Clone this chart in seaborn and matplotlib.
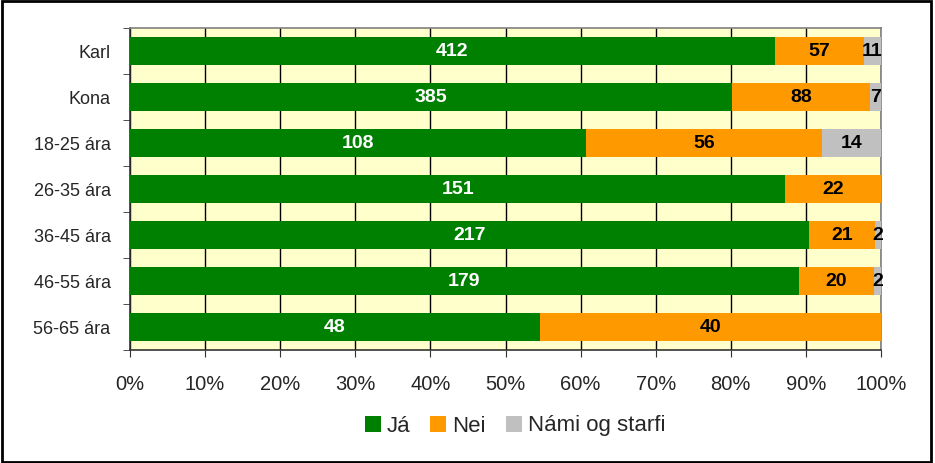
import matplotlib
matplotlib.use("Agg")
import matplotlib.pyplot as plt
import seaborn as sns
import numpy as np
import pandas as pd
from matplotlib.patches import Patch, Rectangle

categories = ["Karl", "Kona", "18-25 ára", "26-35 ára", "36-45 ára", "46-55 ára", "56-65 ára"]
ja = [412, 385, 108, 151, 217, 179, 48]
nei = [57, 88, 56, 22, 21, 20, 40]
nami = [11, 7, 14, 0, 2, 2, 0]
series_names = ["Já", "Nei", "Námi og starfi"]
colors = ["#008000", "#FF9900", "#C0C0C0"]
xticks_labels = ["0%", "10%", "20%", "30%", "40%", "50%", "60%", "70%", "80%", "90%", "100%"]

sns.set_style("white")
plt.rcParams["font.family"] = ["Liberation Sans", "DejaVu Sans"]

ja_a = np.array(ja, float); nei_a = np.array(nei, float); nami_a = np.array(nami, float)
tot = ja_a + nei_a + nami_a
p_ja = ja_a / tot * 100
p_nei = nei_a / tot * 100
p_nami = nami_a / tot * 100

df = pd.DataFrame({"cat": categories, "c3": p_ja + p_nei + p_nami, "c2": p_ja + p_nei, "c1": p_ja})

fig = plt.figure(figsize=(9.35, 4.63), dpi=100)
ax = fig.add_axes([130/935, 1-350/463, (881-130)/935, (350-28)/463])
ax.set_facecolor("#FFFFCC")

for col, c in zip(["c3", "c2", "c1"], colors[::-1]):
    sns.barplot(data=df, x=col, y="cat", orient="h", color=c, width=0.59,
                saturation=1, ax=ax, linewidth=0, zorder=3)

ax.set_xlim(0, 100)
ax.set_ylim(6.5, -0.5)
ax.set_xlabel(""); ax.set_ylabel("")
ax.set_xticks(np.arange(0, 101, 10))
ax.set_xticklabels(xticks_labels, fontsize=14.5)
ax.grid(axis="x", color="black", linewidth=1, zorder=1)
ax.set_axisbelow(True)
ax.tick_params(axis="x", which="major", direction="out", length=5, color="#333333", bottom=True, pad=13)
ax.tick_params(axis="y", which="major", length=0, labelsize=13, pad=14)
ax.set_yticks(np.arange(-0.5, 7, 1), minor=True)
ax.tick_params(axis="y", which="minor", direction="out", length=5, color="#333333", left=True)
for s in ["left", "bottom"]:
    ax.spines[s].set_color("#333333"); ax.spines[s].set_linewidth(1.2)
for s in ["top", "right"]:
    ax.spines[s].set_color("#808080"); ax.spines[s].set_linewidth(1.2)
    ax.spines[s].set_visible(True)

starts = [np.zeros(len(categories)), p_ja, p_ja + p_nei]
widths = [p_ja, p_nei, p_nami]
vals = [ja, nei, nami]
tcols = ["white", "black", "black"]
for st, w, v, tc in zip(starts, widths, vals, tcols):
    for i in range(len(categories)):
        if v[i] > 0:
            ax.text(st[i] + w[i] / 2, i, str(v[i]), ha="center", va="center",
                    color=tc, fontsize=14, fontweight="bold", zorder=5)

handles = [Patch(facecolor=c, edgecolor="none") for c in colors]
fig.legend(handles, series_names, loc="center", bbox_to_anchor=(515/935, 1-426/463),
           ncol=3, frameon=False, fontsize=16, handlelength=0.72, handleheight=0.72,
           handletextpad=0.27, columnspacing=0.9, borderpad=0)

fig.patches.append(Rectangle((0.002, 0.003), 0.994, 0.994, transform=fig.transFigure,
                             fill=False, edgecolor="black", linewidth=2))
fig.savefig("out.png", dpi=100)
